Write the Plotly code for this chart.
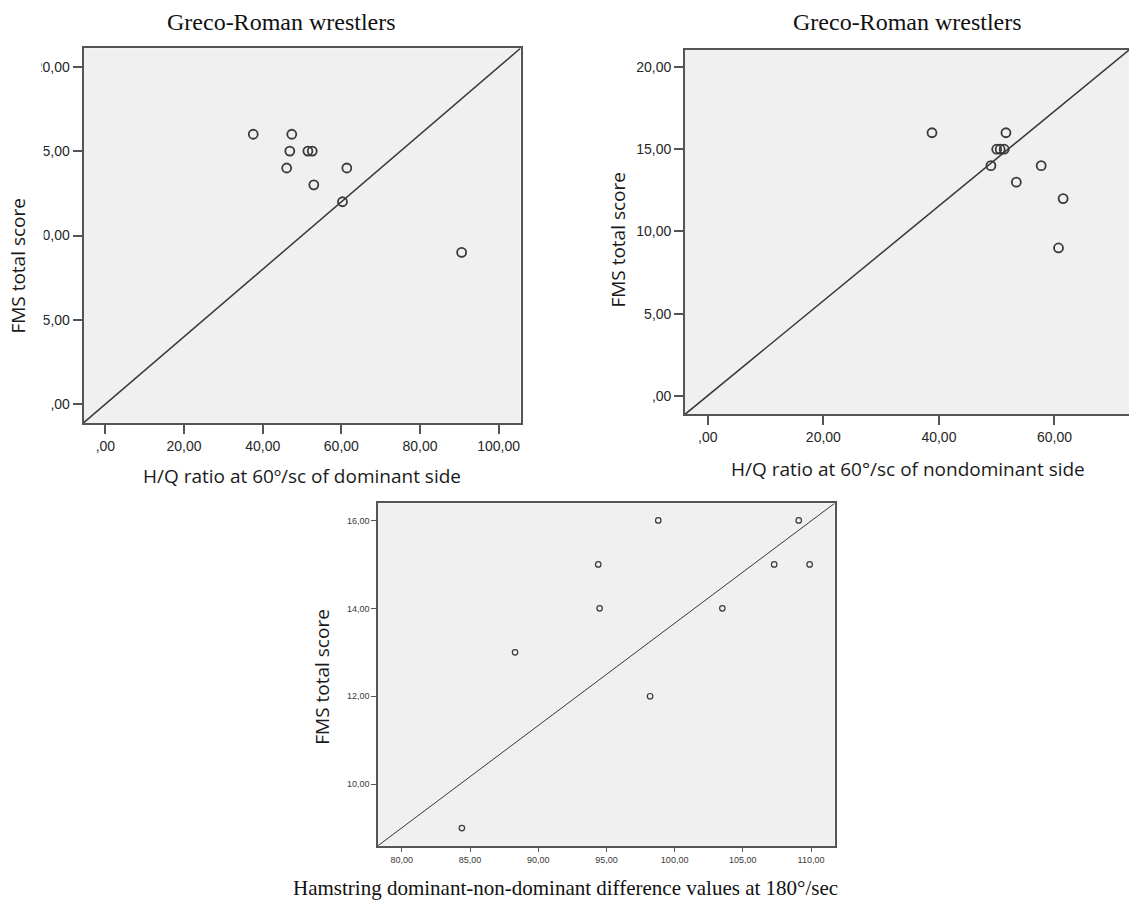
import plotly.graph_objects as go

W, H = 1129, 901

# ---------------- data ----------------
fms_scores = [16, 16, 15, 15, 15, 14, 14, 13, 12, 9]

hq_dominant = [37.6, 47.4, 46.9, 51.5, 52.6, 46.1, 61.4, 53.0, 60.3, 90.6]
hq_nondominant = [38.8, 51.6, 50.0, 50.6, 51.3, 49.0, 57.7, 53.4, 61.5, 60.7]
ham_diff_180 = [98.8, 109.1, 94.4, 107.3, 109.9, 94.5, 103.5, 88.3, 98.2, 84.4]

top_x_tickvals = [0, 20, 40, 60, 80, 100]
top_x_ticktext = [",00", "20,00", "40,00", "60,00", "80,00", "100,00"]
top_y_tickvals = [0, 5, 10, 15, 20]
top_y_ticktext = [",00", "5,00", "10,00", "15,00", "20,00"]
bot_x_tickvals = [80, 85, 90, 95, 100, 105, 110]
bot_x_ticktext = ["80,00", "85,00", "90,00", "95,00", "100,00", "105,00", "110,00"]
bot_y_tickvals = [10, 12, 14, 16]
bot_y_ticktext = ["10,00", "12,00", "14,00", "16,00"]

title_text = "Greco-Roman wrestlers"
y_title = "FMS total score"
x_title_left = "H/Q ratio at 60º/sc of dominant side"
x_title_right = "H/Q ratio at 60°/sc of nondominant side"
x_title_bottom = "Hamstring dominant-non-dominant difference values at 180°/sec"

# ---------------- layout geometry (page pixels) ----------------
panels = {
    # name: (x0, x1, y0(top), y1(bottom), xrange, yrange)
    "L": (83.5, 520.5, 48.3, 422.9, [-5.57, 105.57], [-1.10, 21.09]),
    "R": (685.0, 1129.0, 50.0, 414.3, [-3.95, 72.9], [-1.11, 21.03]),
    "B": (378.0, 834.6, 503.3, 845.7, [78.25, 111.73], [8.60, 16.39]),
}


def xdom(a, b):
    return [a / W, b / W]


def ydom(top, bottom):
    return [1 - bottom / H, 1 - top / H]


def px(x):
    return x / W


def py(y):
    return 1 - y / H


fig = go.Figure()

FRAME = "#555555"
MARK = "#3a3a3a"
BG = "#f0f0f0"
TICKFONT = dict(family="Liberation Sans, Arial, sans-serif", size=14, color="#262626")
SMALLTICK = dict(family="Liberation Sans, Arial, sans-serif", size=9, color="#383838")

series = [
    ("L", "x", "y", hq_dominant, 9, 1.8, 1.5),
    ("R", "x2", "y2", hq_nondominant, 9, 1.8, 1.5),
    ("B", "x3", "y3", ham_diff_180, 5.5, 1.2, 1.0),
]

for name, xa, ya, xs, msize, mlw, dlw in series:
    x0, x1, t, b, xr, yr = panels[name]
    # reference diagonal across the plotting area
    fig.add_trace(go.Scatter(
        x=[xr[0], xr[1]], y=[yr[0], yr[1]], mode="lines",
        line=dict(color="#383838", width=dlw), xaxis=xa, yaxis=ya,
        showlegend=False, hoverinfo="skip"))
    fig.add_trace(go.Scatter(
        x=xs, y=fms_scores, mode="markers",
        marker=dict(symbol="circle-open", size=msize, color=MARK,
                    line=dict(width=mlw, color=MARK)),
        xaxis=xa, yaxis=ya, showlegend=False, cliponaxis=False))


def axis_common(**kw):
    d = dict(showgrid=False, zeroline=False, showline=True, linecolor=FRAME,
             ticks="outside", fixedrange=True)
    d.update(kw)
    return d


xL0, xL1, tL, bL, xrL, yrL = panels["L"]
xR0, xR1, tR, bR, xrR, yrR = panels["R"]
xB0, xB1, tB, bB, xrB, yrB = panels["B"]

layout = dict(
    width=W, height=H, margin=dict(l=0, r=0, t=0, b=0),
    paper_bgcolor="white", plot_bgcolor=BG, showlegend=False,
    xaxis=axis_common(domain=xdom(xL0, xL1), range=xrL, anchor="y", mirror=True,
                      linewidth=1.7, ticklen=9, tickwidth=1.7, tickcolor=FRAME,
                      tickvals=top_x_tickvals, ticktext=top_x_ticktext, tickfont=TICKFONT),
    yaxis=axis_common(domain=ydom(tL, bL), range=yrL, anchor="x", mirror=True,
                      linewidth=1.7, ticklen=9, tickwidth=1.7, tickcolor=FRAME,
                      tickvals=top_y_tickvals, ticktext=top_y_ticktext, tickfont=TICKFONT),
    xaxis2=axis_common(domain=xdom(xR0, xR1), range=xrR, anchor="y2", mirror=True,
                       linewidth=1.7, ticklen=9, tickwidth=1.7, tickcolor=FRAME,
                       tickvals=top_x_tickvals, ticktext=top_x_ticktext, tickfont=TICKFONT),
    yaxis2=axis_common(domain=ydom(tR, bR), range=yrR, anchor="x2", mirror=False,
                       linewidth=1.7, ticklen=9, tickwidth=1.7, tickcolor=FRAME,
                       tickvals=top_y_tickvals, ticktext=top_y_ticktext, tickfont=TICKFONT),
    xaxis3=axis_common(domain=xdom(xB0, xB1), range=xrB, anchor="y3", mirror=True,
                       linewidth=1.5, ticklen=5, tickwidth=1.2, tickcolor=FRAME,
                       tickvals=bot_x_tickvals, ticktext=bot_x_ticktext, tickfont=SMALLTICK),
    yaxis3=axis_common(domain=ydom(tB, bB), range=yrB, anchor="x3", mirror=True,
                       linewidth=1.5, ticklen=5, tickwidth=1.2, tickcolor=FRAME,
                       tickvals=bot_y_tickvals, ticktext=bot_y_ticktext, tickfont=SMALLTICK),
)
fig.update_layout(**layout)

# the left panel's y tick labels are cropped at the left edge in the source image
fig.add_shape(type="rect", xref="paper", yref="paper",
              x0=0, x1=px(41.3), y0=py(90), y1=py(40),
              fillcolor="white", line=dict(width=0), layer="above")
fig.add_shape(type="rect", xref="paper", yref="paper",
              x0=0, x1=px(43.6), y0=py(430), y1=py(90),
              fillcolor="white", line=dict(width=0), layer="above")

SERIF = "Liberation Serif, Times New Roman, serif"
SANS = "Open Sans, sans-serif"

annots = [
    dict(text=title_text, x=px(281.5), y=py(21.7), font=dict(family=SERIF, size=24, color="#111")),
    dict(text=title_text, x=px(907), y=py(21.7), font=dict(family=SERIF, size=24, color="#111")),
    dict(text=x_title_left, x=px(301.5), y=py(476), font=dict(family=SANS, size=19, color="#1a1a1a")),
    dict(text=x_title_right, x=px(907.5), y=py(468.6), font=dict(family=SANS, size=19, color="#1a1a1a")),
    dict(text=x_title_bottom, x=px(565), y=py(888.3), font=dict(family=SERIF, size=21, color="#111")),
    dict(text=y_title, x=px(17.6), y=py(266), textangle=-90, font=dict(family=SANS, size=19, color="#1a1a1a")),
    dict(text=y_title, x=px(617.6), y=py(240), textangle=-90, font=dict(family=SANS, size=19, color="#1a1a1a")),
    dict(text=y_title, x=px(321.2), y=py(676.5), textangle=-90, font=dict(family=SANS, size=19, color="#1a1a1a")),
]
for a in annots:
    fig.add_annotation(xref="paper", yref="paper", showarrow=False,
                       xanchor="center", yanchor="middle", **a)

fig.write_html("out.html",
               config={"displayModeBar": False},
               post_script="document.body.style.margin='0';document.body.style.overflow='hidden';")
